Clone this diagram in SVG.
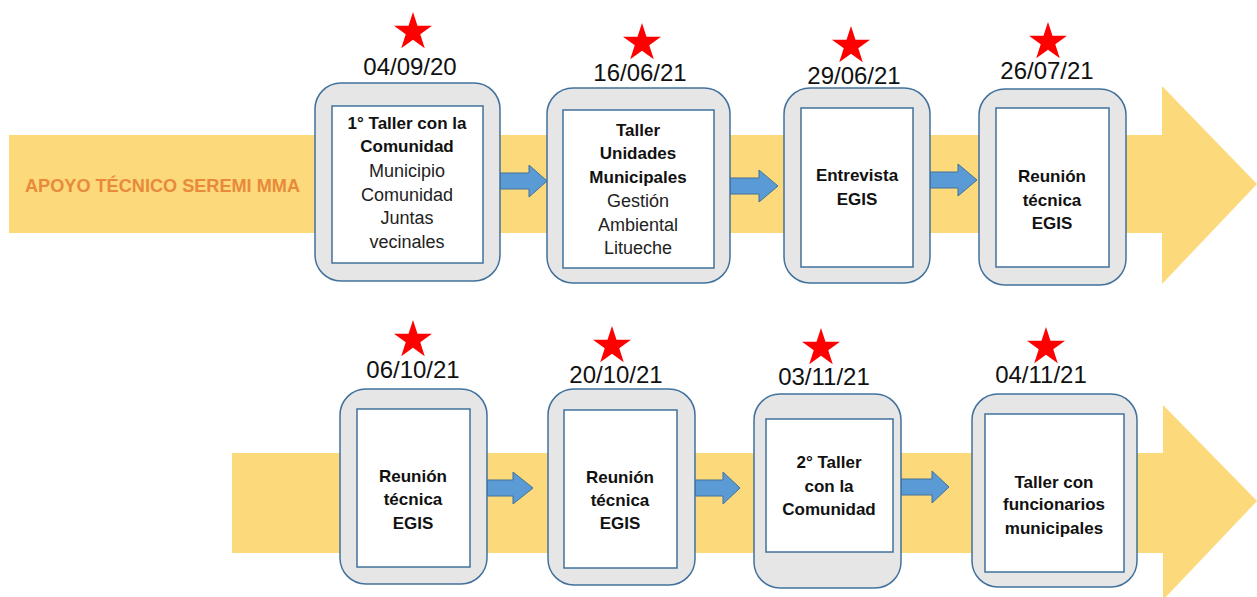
<svg xmlns="http://www.w3.org/2000/svg" width="1257" height="597" viewBox="0 0 1257 597">
<defs>
<style>
.band{fill:#FCD97A}
.outer{fill:#E6E6E6;stroke:#41719C;stroke-width:1.5}
.inner{fill:#FFFFFF;stroke:#41719C;stroke-width:1.5}
.arr{fill:#5B9BD5;stroke:#41719C;stroke-width:1}
.star{fill:#FF0000}
.date{font-family:"Liberation Sans",Arial,sans-serif;font-size:24px;fill:#111;text-anchor:middle}
.b{font-family:"Liberation Sans",Arial,sans-serif;font-size:17px;font-weight:bold;fill:#111;text-anchor:middle}
.r{font-family:"Liberation Sans",Arial,sans-serif;font-size:18px;fill:#222;text-anchor:middle}
.lbl{font-family:"Liberation Sans",Arial,sans-serif;font-size:18px;font-weight:bold;fill:#E8893C}
</style>
<polygon id="st" points="0,-20 4.49,-6.18 19.02,-6.18 7.27,2.36 11.76,16.18 0,7.64 -11.76,16.18 -7.27,2.36 -19.02,-6.18 -4.49,-6.18"/>
</defs>
<rect width="1257" height="597" fill="#FFFFFF"/>
<g id="bands">
<rect class="band" x="9" y="135" width="1154" height="98"/>
<polygon class="band" points="1162,86 1257,184 1162,284"/>
<rect class="band" x="232" y="453" width="932" height="100"/>
<polygon class="band" points="1163,405 1257,501 1163,600"/>
<text class="lbl" x="25" y="192" textLength="275" lengthAdjust="spacingAndGlyphs">APOYO TÉCNICO SEREMI MMA</text>
</g>
<g id="connectors">
<polygon class="arr" points="500,173 529,173 529,165 547,181 529,197 529,189 500,189"/>
<polygon class="arr" points="730,178 759,178 759,170 778,186 759,202 759,194 730,194"/>
<polygon class="arr" points="930,172 958,172 958,164 977,180 958,196 958,188 930,188"/>
<polygon class="arr" points="487,480 513,480 513,472 533,488 513,504 513,496 487,496"/>
<polygon class="arr" points="695,480 723,480 723,472 740,488 723,504 723,496 695,496"/>
<polygon class="arr" points="901,479 932,479 932,471 949,487 932,503 932,495 901,495"/>
</g>
<g id="n1">
<use href="#st" class="star" x="413" y="32"/>
<text class="date" x="410" y="75">04/09/20</text>
<rect class="outer" x="315" y="83" width="185" height="198" rx="26"/>
<rect class="inner" x="332" y="106" width="151" height="157"/>
<text class="b" x="407" y="129">1° Taller con la</text>
<text class="b" x="407" y="152">Comunidad</text>
<text class="r" x="407" y="177">Municipio</text>
<text class="r" x="407" y="201">Comunidad</text>
<text class="r" x="407" y="224">Juntas</text>
<text class="r" x="407" y="248">vecinales</text>
</g>
<g id="n2">
<use href="#st" class="star" x="642" y="43"/>
<text class="date" x="640" y="81">16/06/21</text>
<rect class="outer" x="547" y="88" width="183" height="195" rx="26"/>
<rect class="inner" x="563" y="110" width="151" height="158"/>
<text class="b" x="638" y="136">Taller</text>
<text class="b" x="638" y="159">Unidades</text>
<text class="b" x="638" y="183">Municipales</text>
<text class="r" x="638" y="207">Gestión</text>
<text class="r" x="638" y="231">Ambiental</text>
<text class="r" x="638" y="254">Litueche</text>
</g>
<g id="n3">
<use href="#st" class="star" x="851" y="46"/>
<text class="date" x="854" y="84">29/06/21</text>
<rect class="outer" x="784" y="88" width="146" height="195" rx="26"/>
<rect class="inner" x="801" y="108" width="112" height="159"/>
<text class="b" x="857" y="181">Entrevista</text>
<text class="b" x="857" y="205">EGIS</text>
</g>
<g id="n4">
<use href="#st" class="star" x="1048" y="42"/>
<text class="date" x="1047" y="79">26/07/21</text>
<rect class="outer" x="979" y="89" width="147" height="196" rx="26"/>
<rect class="inner" x="996" y="108" width="113" height="159"/>
<text class="b" x="1052" y="182">Reunión</text>
<text class="b" x="1052" y="206">técnica</text>
<text class="b" x="1052" y="229">EGIS</text>
</g>
<g id="n5">
<use href="#st" class="star" x="413" y="340"/>
<text class="date" x="413" y="378">06/10/21</text>
<rect class="outer" x="340" y="389" width="147" height="195" rx="26"/>
<rect class="inner" x="357" y="409" width="113" height="158"/>
<text class="b" x="413" y="482">Reunión</text>
<text class="b" x="413" y="505">técnica</text>
<text class="b" x="413" y="529">EGIS</text>
</g>
<g id="n6">
<use href="#st" class="star" x="612" y="346"/>
<text class="date" x="616" y="383">20/10/21</text>
<rect class="outer" x="548" y="389" width="147" height="196" rx="26"/>
<rect class="inner" x="564" y="410" width="113" height="158"/>
<text class="b" x="620" y="483">Reunión</text>
<text class="b" x="620" y="506">técnica</text>
<text class="b" x="620" y="529">EGIS</text>
</g>
<g id="n7">
<use href="#st" class="star" x="821" y="348"/>
<text class="date" x="824" y="385">03/11/21</text>
<rect class="outer" x="754" y="394" width="147" height="194" rx="26"/>
<rect class="inner" x="766" y="419" width="127" height="133"/>
<text class="b" x="829" y="468">2° Taller</text>
<text class="b" x="829" y="492">con la</text>
<text class="b" x="829" y="515">Comunidad</text>
</g>
<g id="n8">
<use href="#st" class="star" x="1046" y="347"/>
<text class="date" x="1041" y="383">04/11/21</text>
<rect class="outer" x="972" y="394" width="165" height="193" rx="26"/>
<rect class="inner" x="985" y="414" width="139" height="158"/>
<text class="b" x="1054" y="488">Taller con</text>
<text class="b" x="1054" y="510">funcionarios</text>
<text class="b" x="1054" y="534">municipales</text>
</g>
</svg>
